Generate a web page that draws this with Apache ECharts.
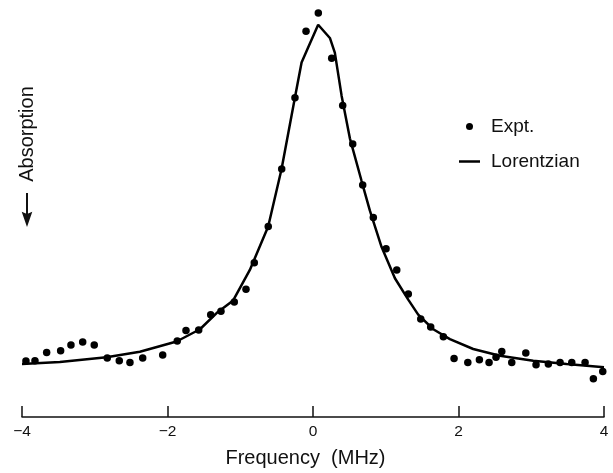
<!DOCTYPE html>
<html><head><meta charset="utf-8">
<script src="https://cdn.jsdelivr.net/npm/echarts@6/dist/echarts.min.js"></script>
<style>html,body{margin:0;padding:0;background:#fff}#c{width:613px;height:473px}</style>
</head><body><div id="c"></div>
<script>
// Frequency (MHz) ticks
const xTicks = [-4, -2, 0, 2, 4];
// Experimental points
const exptX = [-3.946,-3.822,-3.661,-3.469,-3.327,-3.166,-3.007,-2.828,-2.663,-2.516,-2.341,-2.066,-1.866,-1.746,-1.571,-1.406,-1.265,-1.082,-0.921,-0.807,-0.615,-0.430,-0.248,-0.096,0.073,0.257,0.408,0.546,0.683,0.829,1.004,1.151,1.310,1.481,1.618,1.792,1.939,2.128,2.287,2.420,2.516,2.595,2.732,2.925,3.066,3.235,3.396,3.557,3.740,3.854,3.983];
const exptY = [14.2,14.25,16.3,16.75,18.2,19.0,18.2,14.9,14.25,13.8,14.9,15.7,19.2,21.9,22.0,25.9,26.75,29.1,32.3,39.0,48.2,62.75,80.75,97.6,102.2,90.75,78.8,69.1,58.7,50.5,42.6,37.2,31.1,24.8,22.8,20.3,14.8,13.8,14.5,13.8,15.1,16.6,13.8,16.2,13.25,13.4,13.8,13.8,13.8,9.7,11.5];
// Lorentzian fit curve
const lorX = [-4.0,-3.48,-2.838,-2.38,-1.875,-1.554,-1.325,-1.097,-0.868,-0.616,-0.432,-0.249,-0.157,-0.088,0.071,0.232,0.300,0.393,0.507,0.668,0.782,0.943,1.126,1.309,1.446,1.653,1.882,2.202,2.569,3.027,3.486,4.0];
const lorY = [13.4,13.9,15.1,16.5,19.1,22.2,26.3,29.5,37.2,48.2,62.75,80.75,89.7,92.6,99.25,95.9,92.2,81.3,70.5,59.7,52.2,43.0,35.1,29.7,25.9,22.2,19.7,17.2,15.5,14.25,13.4,12.6];

const FONT = '"Liberation Sans", Arial, Helvetica, sans-serif';
const INK = '#111';
const expt = exptX.map((x, i) => [x, exptY[i]]);
const lor = lorX.map((x, i) => [x, lorY[i]]);

const chart = echarts.init(document.getElementById('c'), null, {renderer: 'canvas'});
chart.setOption({
  animation: false,
  backgroundColor: '#fff',
  grid: {left: 22, right: 9, top: 2, bottom: 51},
  xAxis: {
    type: 'value', min: xTicks[0], max: xTicks[xTicks.length - 1], interval: 2,
    name: 'Frequency  (MHz)', nameLocation: 'middle', nameGap: 31,
    nameTextStyle: {fontFamily: FONT, fontSize: 20, color: INK, padding: [0, 15, 0, 0]},
    axisLine: {lineStyle: {color: INK, width: 1.5}},
    axisTick: {inside: true, length: 11, lineStyle: {color: INK, width: 1.5}},
    axisLabel: {fontFamily: FONT, fontSize: 15.5, color: INK, margin: 7,
      formatter: v => String(v).replace('-', '\u2212')},
    splitLine: {show: false}
  },
  yAxis: {type: 'value', min: 0, max: 105, show: false},
  legend: {
    orient: 'vertical', left: 454, top: 112, itemWidth: 21, itemHeight: 7, itemGap: 16,
    textStyle: {fontFamily: FONT, fontSize: 19, color: INK, padding: [0, 0, 0, 6]},
    data: [
      {name: 'Expt.', icon: 'circle', itemStyle: {color: '#000', opacity: 1}},
      {name: 'Lorentzian', icon: 'path://M0,0L21,0L21,2.5L0,2.5Z', itemStyle: {color: '#000', opacity: 1}}
    ]
  },
  graphic: [
    {type: 'text', x: 27, y: 134, rotation: Math.PI / 2,
      style: {text: 'Absorption', fontFamily: FONT, fontSize: 20, fill: INK, align: 'center', verticalAlign: 'middle'}},
    {type: 'line', shape: {x1: 27, y1: 193, x2: 27, y2: 215}, style: {stroke: INK, lineWidth: 2}},
    {type: 'polygon', shape: {points: [[21.7, 211.7], [27, 214], [32.3, 211.7], [27, 227]]}, style: {fill: INK}}
  ],
  series: [
    {type: 'scatter', name: 'Expt.', data: expt, symbol: 'circle', symbolSize: 7.5,
      itemStyle: {color: '#000', opacity: 1}},
    {type: 'line', name: 'Lorentzian', data: lor, symbol: 'none', showSymbol: false, smooth: false,
      lineStyle: {color: '#000', width: 2.5}, itemStyle: {color: '#000'}}
  ]
});
</script></body></html>
